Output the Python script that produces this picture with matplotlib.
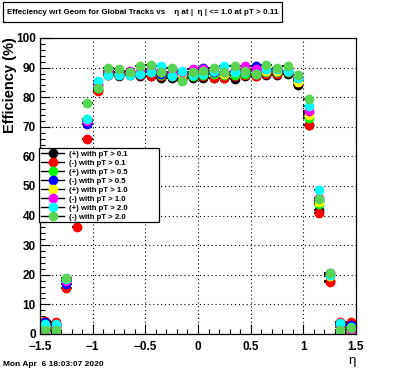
import matplotlib.pyplot as plt
from matplotlib.lines import Line2D
from matplotlib.patches import Rectangle
from matplotlib.ticker import MultipleLocator
import numpy as np

plt.rcParams['font.family'] = ['Liberation Sans', 'DejaVu Sans']

# 30 eta bins from -1.5 to 1.5
eta = np.round(np.arange(-1.45, 1.5, 0.1), 2)
half_width = 0.05

labels = ['(+) with pT > 0.1', '(-) with pT > 0.1',
          '(+) with pT > 0.5', '(-) with pT > 0.5',
          '(+) with pT > 1.0', '(-) with pT > 1.0',
          '(+) with pT > 2.0', '(-) with pT > 2.0']
colors = ['#000000', '#ff0000', '#00ff00', '#0000ff',
          '#ffff00', '#ff00ff', '#00ffff', '#59d454']

pos_01 = [4.0, 3.5, 18.5, 42, 72, 82.5, 87.5, 87, 87.5, 87, 87, 86.5, 86.5, 86, 86.5,
          86.5, 86.5, 86.5, 86, 87, 87, 87.5, 87.5, 88, 84, 70.5, 42, 18, 3.5, 3.5]
neg_01 = [4.5, 4.0, 15.5, 36, 66, 82, 87.5, 87.5, 88, 87.5, 87, 87, 87, 86.5, 87,
          87, 86.5, 86.5, 87, 87.5, 87, 88, 88, 88.5, 85, 70.5, 41, 17.5, 4.0, 4.0]
pos_05 = [3.0, 2.5, 18, 43, 72.5, 83, 88, 88, 88, 88, 88.5, 87.5, 87.5, 87.5, 87,
          87.5, 88, 87.5, 87.5, 88, 88, 88.5, 88.5, 88.5, 85.5, 73, 44, 19.5, 3.0, 2.5]
neg_05 = [4.0, 3.0, 17, 41, 71, 84, 88.5, 88.5, 88.5, 88, 89, 88, 88, 88, 88,
          90, 88.5, 88, 88.5, 89, 90.5, 89, 89, 89, 86, 74.5, 45, 20.5, 3.5, 3.0]
pos_10 = [2.0, 2.0, 18.5, 43, 72.5, 84, 88.5, 88, 88.5, 88.5, 89.5, 88.5, 88, 88, 88,
          88.5, 89, 88, 88.5, 89.5, 89, 89, 89, 89, 85, 74, 44.5, 19.5, 2.5, 0.5]
neg_10 = [1.0, 2.5, 18, 43, 72, 84.5, 89, 88.5, 89, 88.5, 89.5, 89, 88.5, 88.5, 89.5,
          89.5, 89, 88.5, 89, 90.5, 89.5, 89.5, 89.5, 89, 86.5, 75.5, 46, 20, 3.0, 1.3]
pos_20 = [3.5, 3.5, 18.5, 45.5, 72.5, 85.5, 87.5, 87.5, 87.5, 88, 88.5, 90.5, 87, 89, 87.5,
          88, 89, 90.5, 88.5, 88.5, 88, 89.5, 89.5, 89, 86.5, 77, 48.5, 20, 3.8, 2.5]
neg_20 = [1.5, 1.2, 19, 43.5, 78, 83, 90, 89.5, 88.5, 90.5, 91, 88.5, 90, 85.5, 88.5,
          89, 90, 88.5, 90.5, 89, 88, 91, 90, 90.5, 87.5, 79.5, 45.5, 20.5, 1.4, 2.0]

series = [pos_01, neg_01, pos_05, neg_05, pos_10, neg_10, pos_20, neg_20]

fig = plt.figure(figsize=(3.96, 3.72), dpi=100)
ax = fig.add_axes([40 / 396, 1 - 334 / 372, 316 / 396, 296 / 372])

for vals, col in zip(series, colors):
    ax.errorbar(eta, vals, xerr=half_width, fmt='o', color=col, ms=6, mec=col,
                ecolor='black', elinewidth=1.3, capsize=0)

ax.set_xlim(-1.5, 1.5)
ax.set_ylim(0, 100)
ax.xaxis.set_major_locator(MultipleLocator(0.5))
ax.xaxis.set_minor_locator(MultipleLocator(0.1))
ax.yaxis.set_major_locator(MultipleLocator(10))
ax.yaxis.set_minor_locator(MultipleLocator(2))
ax.set_xticks([-1.5, -1, -0.5, 0, 0.5, 1, 1.5])
ax.set_xticklabels(['\u22121.5', '\u22121', '\u22120.5', '0', '0.5', '1', '1.5'])
ax.tick_params(which='both', direction='in', top=False, right=False, width=0.8)
ax.tick_params(which='major', length=7, labelsize=8.5)
ax.tick_params(which='minor', length=3.5)
ax.tick_params(axis='y', pad=3)
ax.tick_params(axis='x', pad=4.8)
for lab in ax.get_xticklabels() + ax.get_yticklabels():
    lab.set_fontweight('bold')
ax.grid(which='major', color='black', linestyle=(0, (1, 2.5)), linewidth=0.8)
for sp in ax.spines.values():
    sp.set_linewidth(0.9)

handles = [Line2D([], [], color='black', lw=1.0, marker='o', ms=6,
                  markerfacecolor=c, markeredgecolor=c) for c in colors]
leg = ax.legend(handles, labels, loc='upper left',
                bbox_to_anchor=(-0.003, 0.375, 0.378, 0.253), mode='expand',
                prop={'weight': 'bold', 'size': 5.6},
                frameon=True, fancybox=False, edgecolor='black',
                framealpha=1, handlelength=3.0, handletextpad=0.6,
                labelspacing=0.2, borderpad=0.25, borderaxespad=0)
leg.get_frame().set_linewidth(0.9)

# title box
fig.patches.append(Rectangle((3 / 396, 1 - 22 / 372), 279 / 396, 20 / 372,
                             transform=fig.transFigure, fill=False,
                             edgecolor='black', linewidth=0.9))
fig.text(7 / 396, 1 - 12.5 / 372,
         'Effeciency wrt Geom for Global Tracks vs    \u03b7 at |  \u03b7 | <= 1.0 at pT > 0.11',
         fontsize=5.8, fontweight='bold', ha='left', va='center')

fig.text(10 / 396, 1 - 37 / 372, 'Efficiency (%)', rotation=90, fontsize=10.5,
         fontweight='bold', ha='center', va='top')
fig.text(352 / 396, 1 - 361 / 372, '\u03b7', fontsize=9.5, ha='center', va='center')
fig.text(3 / 396, 1 - 365 / 372, 'Mon Apr  6 18:03:07 2020', fontsize=6,
         fontweight='bold', ha='left', va='center')

fig.savefig('out.png', dpi=100)
